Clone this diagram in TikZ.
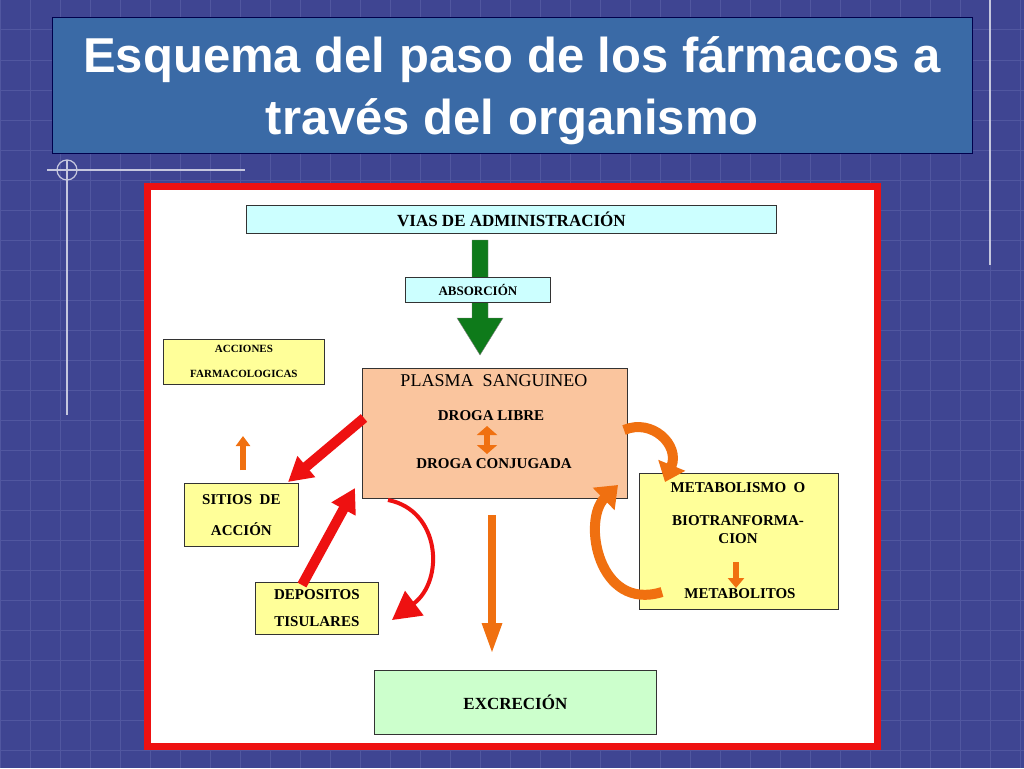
\documentclass[tikz,border=0pt]{standalone}
\usepackage{fontspec}
\setmainfont{Liberation Serif}
\newfontfamily\titlefont{Liberation Sans}
\usetikzlibrary{arrows.meta,shadows}
\definecolor{bg}{HTML}{3F4592}
\definecolor{gridc}{HTML}{5157A0}
\definecolor{titlebg}{HTML}{3A6AA6}
\definecolor{ycol}{HTML}{FFFF99}
\definecolor{ccol}{HTML}{CCFFFF}
\definecolor{gcol}{HTML}{CCFFCC}
\definecolor{pcol}{HTML}{FAC59E}
\definecolor{ocol}{HTML}{F07010}
\definecolor{rcol}{HTML}{EE1111}
\definecolor{grn}{HTML}{0E7A1A}
\tikzset{
 bx/.style={draw=black!80, line width=0.8pt, inner sep=0pt, anchor=north west, align=center, font=\bfseries},
 fat/.style={line width=#1, -{Triangle[length=24pt,width=#1*2.6]}},
}
\begin{document}
\begin{tikzpicture}[x=1pt,y=-1pt]
\useasboundingbox (0,0) rectangle (1024,768);
\fill[bg] (0,0) rectangle (1024,768);
\foreach \i in {0,30,...,1024} \draw[gridc,line width=1pt] (\i,0) -- (\i,768);
\foreach \j in {0,30,...,768} \draw[gridc,line width=1pt] (0,\j) -- (1024,\j);
% decorations
\draw[white!70!bg,line width=1.2pt] (67,160) -- (67,415) (47,170) -- (245,170) (990,0) -- (990,265);
\draw[white!70!bg,line width=1.2pt] (67,170) circle (10);
% title
\node[draw=black!70!blue,fill=titlebg,minimum width=920pt,minimum height=136pt,anchor=north west,inner sep=0pt] (title) at (52,17) {};
\node[text=white,font=\titlefont\bfseries\fontsize{49}{62}\selectfont,align=center] (tt) at ([yshift=-6pt]title.center) {Esquema del paso de los fármacos a\\través del organismo};
% panel
\draw[rcol,fill=white,line width=7pt] (147,186) rectangle (877,746);
% green arrow (behind ABSORCION)
\fill[grn,draw=black!50] (472,240) -- (488,240) -- (488,318) -- (503,318) -- (480,355) -- (457,318) -- (472,318) -- cycle;
% boxes
\node[bx,fill=ccol,minimum width=530pt,minimum height=28pt,font=\bfseries\fontsize{17}{18}\selectfont] (vias) at (246,205) {VIAS DE ADMINISTRACIÓN};
\node[bx,fill=ccol,minimum width=145pt,minimum height=25pt,font=\bfseries\fontsize{13}{14}\selectfont] (abs) at (405,277) {ABSORCIÓN};
\node[bx,fill=ycol,minimum width=161pt,minimum height=45pt,font=\bfseries\fontsize{11}{25}\selectfont] (acc) at (163,339) {ACCIONES\\FARMACOLOGICAS};
\node[bx,fill=pcol,minimum width=265pt,minimum height=130pt] (plasma) at (362,368) {};
\node[font=\fontsize{18}{20}\selectfont] at (494,381) {PLASMA\ \ SANGUINEO};
\node[font=\bfseries\fontsize{15}{17}\selectfont] (libre) at (491,416) {DROGA LIBRE};
\node[font=\bfseries\fontsize{15}{17}\selectfont] (conj) at (494,464) {DROGA CONJUGADA};
\node[bx,fill=ycol,minimum width=114pt,minimum height=63pt,font=\bfseries\fontsize{15}{31}\selectfont] (sitios) at (184,483) {SITIOS\ \ DE\\ACCIÓN};
\node[bx,fill=ycol,minimum width=123pt,minimum height=52pt,font=\bfseries\fontsize{15}{27}\selectfont] (dep) at (255,582) {DEPOSITOS\\TISULARES};
\node[bx,fill=ycol,minimum width=199pt,minimum height=136pt] (meta) at (639,473) {};
\node[font=\bfseries\fontsize{15}{17}\selectfont] at (738,488) {METABOLISMO\ \ O};
\node[font=\bfseries\fontsize{15}{18}\selectfont,align=center] at (738,530) {BIOTRANFORMA-\\CION};
\node[bx,fill=gcol,minimum width=282pt,minimum height=64pt,font=\bfseries\fontsize{17}{18}\selectfont] (exc) at (374,670) {EXCRECIÓN};
% red arrows
\coordinate (r1a) at (364,418); \coordinate (r1b) at (288,482);
\draw[rcol,fat=10pt] (r1a) -- (r1b);
\coordinate (r2a) at (302,585); \coordinate (r2b) at (355,488);
\draw[rcol,fat=10pt] (r2a) -- (r2b);
\coordinate (r3a) at (388,500); \coordinate (r3b) at (392,620);
\draw[rcol,line width=4pt,-{Triangle[length=28pt,width=30pt]}] (r3a) .. controls (440,510) and (445,580) .. (r3b);
% orange arrows
\coordinate (o1a) at (492,515); \coordinate (o1b) at (492,655);
\draw[ocol,line width=8pt,-{Triangle[length=32pt,width=18pt]}] (o1a) -- (o1b);
\coordinate (o2a) at (243,470); \coordinate (o2b) at (243,436);
\draw[ocol,line width=6pt,-{Triangle[length=10pt,width=14pt]}] (o2a) -- (o2b);
\draw[ocol,line width=6pt,{Triangle[length=9pt,width=20pt]}-{Triangle[length=9pt,width=20pt]}] (487,426) -- (487,454);
\coordinate (o3a) at (624,430); \coordinate (o3b) at (665,482);
\draw[ocol,line width=10pt,-{Triangle[length=18pt,width=28pt]}] (o3a) .. controls (652,418) and (680,445) .. (o3b);
\coordinate (o4a) at (662,592); \coordinate (o4b) at (618,485);
\draw[ocol,line width=10pt,-{Triangle[length=20pt,width=30pt]}] (o4a) .. controls (598,612) and (582,520) .. (o4b);
\node[font=\bfseries\fontsize{15}{17}\selectfont] (metab) at (740,594) {METABOLITOS};
\coordinate (o5a) at (736,562); \coordinate (o5b) at (736,588);
\draw[ocol,line width=6pt,-{Triangle[length=10pt,width=16pt]}] (o5a) -- (o5b);
\end{tikzpicture}
\end{document}
